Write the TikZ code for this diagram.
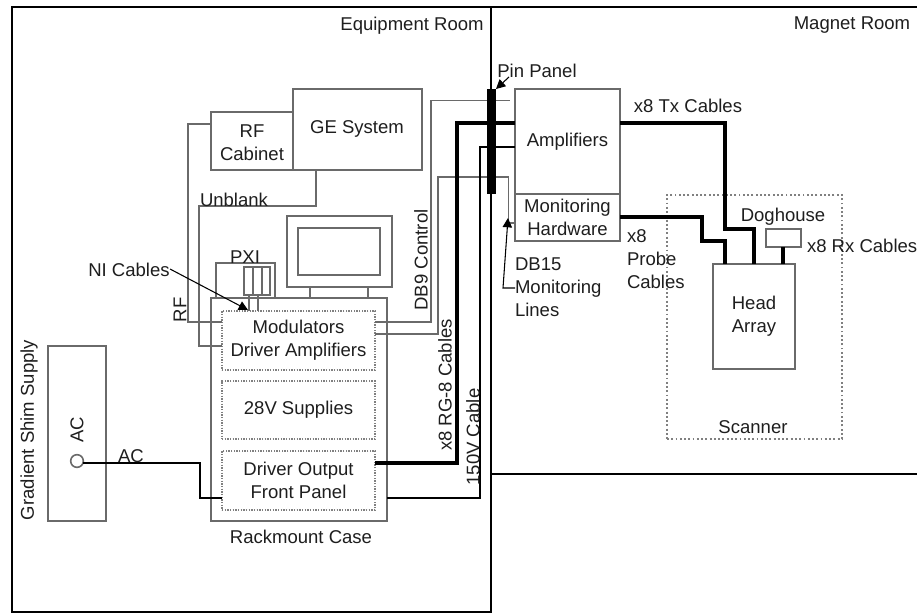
\documentclass[tikz,border=0pt]{standalone}
\usepackage{fontspec}
\setmainfont{Liberation Sans}
\usetikzlibrary{arrows.meta}
\newcommand\pbox[7]{%
  \pgfmathsetmacro\pw{abs(#4-#2)*0.75}%
  \pgfmathsetmacro\ph{abs(#5-#3)*0.75}%
  \node[#6,minimum width=\pw pt,minimum height=\ph pt,at={({(#2+#4)/2},{(#3+#5)/2})}] (#1) {#7};}
\definecolor{wiregray}{HTML}{6A6A6A}
\definecolor{ink}{HTML}{1E1E1E}
\tikzset{
  basebox/.style={rectangle,inner sep=0pt,outer sep=0pt,align=center,text=ink},
  graybox/.style={basebox,draw=wiregray,line width=1.2pt},
  dotbox/.style={basebox,draw=wiregray!85,line width=1.1pt,dash pattern=on 1.1pt off 0.9pt},
  scanbox/.style={basebox,draw=wiregray!85,line width=1.2pt,dash pattern=on 1.4pt off 1.8pt},
  room/.style={basebox,draw=black,line width=1.6pt},
  wire/.style={draw=wiregray,line width=1.1pt},
  power/.style={draw=black,line width=1.8pt},
  heavy/.style={draw=black,line width=3.7pt},
  lab/.style={inner sep=0pt,outer sep=0pt,text=ink,align=left},
  tip/.style={draw=black,line width=0.8pt,-{Triangle[length=7pt,width=7pt]}},
}
\begin{document}
\begin{tikzpicture}[x=0.75pt,y=-0.75pt,font=\fontsize{13.9}{17.25}\selectfont]
\useasboundingbox (0,0) rectangle (917,614);
\fill[white] (0,0) rectangle (917,614);
% rooms
\pbox{equip}{12}{7}{491}{612}{room}{}
\pbox{magnet}{491}{7}{922}{474}{room}{}
% boxes
\pbox{ge}{293}{89}{422}{170}{graybox}{}
\pbox{rfc}{211}{112}{293}{170}{graybox}{}
\pbox{monitor}{287}{216}{392}{287}{graybox}{}
\pbox{screen}{298}{228}{380}{275}{graybox}{}
\pbox{stand}{310}{287}{368}{298}{graybox}{}
\pbox{pxi}{216}{263}{275}{298}{graybox}{}
\pbox{slotA}{244}{267}{253}{295}{graybox}{}
\pbox{slotB}{253}{267}{262}{295}{graybox}{}
\pbox{slotC}{262}{267}{270}{295}{graybox}{}
\pbox{rack}{211}{298}{387}{521}{graybox}{}
\pbox{mods}{222}{311}{375}{370}{dotbox}{Modulators\\Driver Amplifiers}
\pbox{supplies}{222}{381}{375}{439}{dotbox}{28V Supplies}
\pbox{driver}{222}{451}{375}{510}{dotbox}{Driver Output\\Front Panel}
\pbox{shim}{48}{346}{106}{521}{graybox}{}
\node[draw=wiregray,line width=1.2pt,circle,inner sep=0pt,outer sep=0pt,minimum size=9.5pt] (acport) at (77,461) {};
\pbox{amps}{515}{89}{620}{194}{graybox}{Amplifiers}
\pbox{monhw}{515}{194}{620}{241}{graybox}{Monitoring\\Hardware}
\pbox{scanner}{667}{195}{842}{439}{scanbox}{}
\pbox{head}{713}{264}{795}{369}{graybox}{Head\\Array}
\pbox{dog}{766}{229}{801}{247}{graybox}{}
% gray wires
\draw[wire] (rfc.west |- 0,124) -- (188,124) |- (mods.west |- 0,322);
\draw[wire] (ge.south -| 316,0) -- (316,206) -- (199,206) |- (mods.west |- 0,346);
\draw[wire] (mods.east |- 0,322) -- (431,322) |- (510,100.5) coordinate (dbnine);
\draw[wire] (mods.east |- 0,334) -- (438,334) |- (508.5,177) |- (monhw.west |- 0,223);
\draw[wire] (slotA.south -| 249,0) -- (mods.north -| 249,0);
\draw[wire] (slotB.south -| 258,0) -- (mods.north -| 258,0);
% power and heavy wires
\draw[power] (acport.east |- 0,463) -- (200,463) |- (driver.west |- 0,498);
\draw[power] (rack.east |- 0,498) -- (480,498) |- (amps.west |- 0,147);
\draw[heavy] (driver.east |- 0,463) -- (457,463) |- (amps.west |- 0,123);
\draw[heavy] (amps.east |- 0,123) -- (725,123) |- (754,229) -- (head.north -| 754,0);
\draw[heavy] (monhw.east |- 0,217) -- (702,217) |- (725,241) -- (head.north -| 725,0);
\draw[heavy] (dog.south -| 783,0) -- (head.north -| 783,0);
% pin panel
\pbox{pin}{487}{89}{496}{194}{basebox,fill=black}{}
% callouts
\coordinate (pintail) at (509,77);
\coordinate (nitail) at (170,269);
\coordinate (dbtail) at (515,288);
\draw[tip] (pintail) -- (pin.north east);
\draw[tip] (nitail) -- (248,310);
\draw[tip,draw=black] (dbtail) -- (503,288) -- (508,218);
% labels
\node[lab] (gel) at (357,129) {GE System};
\node[lab,align=center] (rfcl) at (252,143) {RF\\Cabinet};
\node[lab] (equipl) at (412,25.5) {Equipment Room};
\node[lab] (magnetl) at (852,25.5) {Magnet Room};
\node[lab] (pinl) at (537,71) {Pin Panel};
\node[lab] (txl) at (688,106) {x8 Tx Cables};
\node[lab] (unblankl) at (234,200) {Unblank};
\node[lab] (pxil) at (245,257) {PXI};
\node[lab] (nil) at (129,270) {NI Cables};
\node[lab,rotate=90] (rfl) at (180,310) {RF};
\node[lab,rotate=90] (db9l) at (421,260) {DB9 Control};
\node[lab,rotate=90] (rg8l) at (445,385) {x8 RG-8 Cables};
\node[lab,rotate=90] (hvl) at (473,437) {150V Cable};
\node[lab,rotate=90] (shiml) at (29,430) {Gradient Shim Supply};
\node[lab,rotate=90] (acrot) at (77,430) {AC};
\node[lab] (acl) at (131,456) {AC};
\node[lab] (rackl) at (301,537) {Rackmount Case};
\node[lab,anchor=north west] (db15l) at (515,258) {DB15\\Monitoring\\Lines};
\node[lab,anchor=north west] (probel) at (627,230) {x8\\Probe\\Cables};
\node[lab] (dogl) at (783,217) {Doghouse};
\node[lab,anchor=west] (rxl) at (807,246) {x8 Rx Cables};
\node[lab] (scanl) at (753,427) {Scanner};
\end{tikzpicture}
\end{document}
